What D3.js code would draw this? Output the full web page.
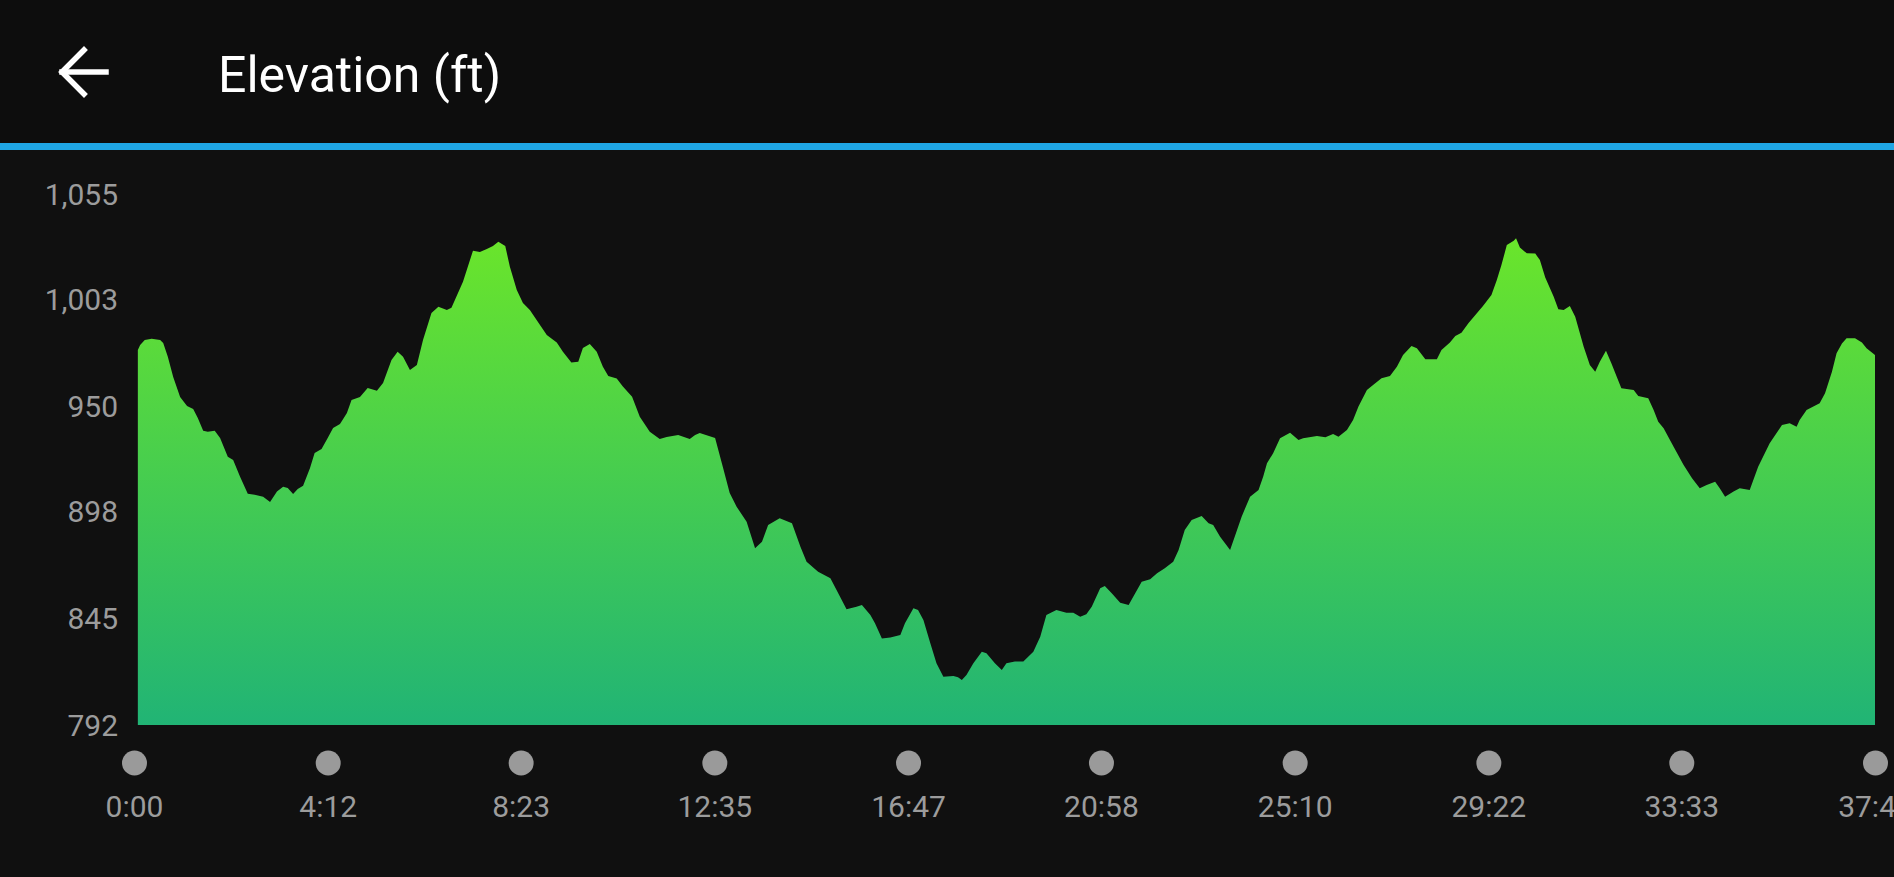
<!DOCTYPE html>
<html>
<head>
<meta charset="utf-8">
<script src="https://cdn.jsdelivr.net/npm/d3@7"></script>
<style>
  html, body { margin: 0; padding: 0; background: #101010; overflow: hidden; }
  svg { display: block; }
  text { font-family: Roboto, "Noto Sans", sans-serif; }
</style>
</head>
<body>
<svg id="chart" width="1894" height="877"></svg>
<script>
// ---- Data ----
const title = "Elevation (ft)";

// elapsed time in seconds
const times = [
  5, 8, 14, 23, 34, 38, 44, 51, 60, 69, 77, 83, 90, 96, 105, 112, 122, 129, 138, 148,
  157, 168, 177, 186, 194, 200, 207, 213, 220, 229, 235, 244, 252, 259, 268, 277, 283, 294, 304, 316,
  324, 335, 343, 350, 359, 368, 376, 387, 396, 407, 413, 428, 441, 450, 459, 467, 474, 483, 489, 498,
  506, 515, 537, 550, 558, 569, 578, 584, 593, 602, 610, 617, 628, 636, 648, 658, 671, 684, 693, 708,
  723, 730, 736, 756, 766, 775, 784, 797, 808, 817, 825, 840, 856, 867, 875, 890, 906, 914, 927, 940,
  947, 958, 964, 973, 984, 997, 1003, 1014, 1020, 1027, 1036, 1044, 1053, 1066, 1072, 1077, 1083, 1092, 1103, 1109,
  1120, 1129, 1135, 1146, 1157, 1170, 1179, 1187, 1200, 1213, 1222, 1231, 1239, 1246, 1257, 1263, 1272, 1283, 1294, 1300,
  1311, 1322, 1331, 1341, 1352, 1359, 1367, 1376, 1389, 1398, 1404, 1413, 1426, 1432, 1441, 1452, 1463, 1469, 1474, 1482,
  1491, 1504, 1515, 1521, 1539, 1550, 1560, 1567, 1578, 1586, 1593, 1604, 1612, 1623, 1634, 1643, 1651, 1662, 1669, 1680,
  1695, 1701, 1712, 1719, 1727, 1736, 1747, 1755, 1766, 1773, 1779, 1786, 1795, 1798, 1803, 1812, 1823, 1829, 1836, 1847,
  1853, 1860, 1868, 1875, 1886, 1894, 1901, 1907, 1915, 1922, 1929, 1935, 1951, 1957, 1970, 1977, 1983, 1990, 2003, 2016,
  2027, 2037, 2046, 2057, 2063, 2070, 2081, 2089, 2102, 2113, 2128, 2144, 2154, 2163, 2167, 2176, 2193, 2200, 2209, 2215,
  2222, 2228, 2239, 2248, 2254, 2265
];

// elevation in feet
const elevations = [
  977.7, 980.2, 982.7, 983.3, 982.7, 981.2, 974.4, 964.4, 954.5, 950.0, 948.5, 944.1, 937.8, 937.3, 937.8, 934.2, 924.9, 923.3, 915.0, 906.5,
  906.0, 905.0, 902.5, 907.6, 910.0, 909.4, 906.4, 908.9, 910.5, 919.3, 926.7, 928.7, 934.2, 939.1, 941.1, 946.5, 953.0, 954.5, 958.9, 957.6,
  961.4, 972.8, 976.9, 974.4, 967.8, 970.3, 982.7, 996.1, 999.1, 997.6, 998.6, 1011.6, 1026.9, 1026.3, 1027.8, 1029.2, 1031.4, 1029.2, 1019.0, 1007.5,
  1001.0, 997.6, 985.2, 981.4, 976.9, 971.5, 971.9, 978.7, 980.7, 976.9, 969.5, 964.9, 963.6, 959.6, 954.6, 944.7, 937.3, 933.7, 934.6, 935.6,
  933.7, 935.6, 936.6, 934.2, 919.9, 906.9, 900.1, 892.7, 879.5, 882.8, 891.1, 894.4, 891.9, 880.3, 872.9, 867.9, 864.7, 858.9, 849.3, 850.6,
  851.4, 846.5, 842.4, 834.9, 835.4, 836.6, 842.4, 849.8, 849.0, 844.0, 832.5, 822.6, 815.9, 816.3, 815.6, 814.3, 816.8, 822.6, 828.3, 827.5,
  822.6, 819.2, 822.6, 823.4, 823.4, 828.3, 835.7, 846.5, 849.0, 847.6, 847.6, 845.6, 846.9, 850.6, 859.7, 860.8, 857.2, 852.6, 851.4, 855.5,
  863.0, 864.2, 867.1, 869.6, 872.9, 878.7, 888.6, 893.5, 895.5, 891.9, 891.1, 885.3, 878.7, 885.3, 895.2, 905.1, 908.4, 915.0, 921.6, 926.6,
  934.0, 936.8, 933.2, 934.0, 935.1, 934.5, 936.1, 934.8, 938.1, 943.1, 949.7, 957.9, 960.4, 963.7, 964.9, 969.5, 975.3, 979.7, 978.6, 973.1,
  973.1, 977.7, 981.4, 984.7, 986.3, 991.0, 995.9, 999.5, 1005.0, 1012.4, 1019.8, 1029.7, 1031.9, 1033.1, 1028.5, 1025.6, 1025.5, 1022.3, 1013.6, 1004.1,
  997.9, 997.5, 999.5, 994.2, 979.4, 970.3, 967.0, 971.9, 977.4, 971.2, 964.5, 958.8, 957.9, 955.0, 953.8, 948.0, 942.2, 939.0, 929.8, 920.8,
  914.2, 909.2, 910.9, 912.5, 909.2, 905.1, 907.6, 909.2, 908.4, 919.9, 931.5, 940.6, 941.4, 939.7, 943.1, 948.0, 951.3, 956.3, 967.0, 976.1,
  981.0, 983.5, 983.5, 981.4, 978.6, 975.3
];

// axis ticks
const yTicks = [792, 845, 898, 950, 1003, 1055];
const xTickSeconds = [0, 252, 503, 755, 1007, 1258, 1510, 1762, 2013, 2265];
const xTickLabels = ["0:00", "4:12", "8:23", "12:35", "16:47", "20:58", "25:10", "29:22", "33:33", "37:45"];

const yDomain = [792, 1055];
const xDomain = [0, 2265];

// ---- Drawing ----
const W = 1894, H = 877;
const svg = d3.select("#chart");

// header
svg.append("rect").attr("x", 0).attr("y", 0).attr("width", W).attr("height", 143).attr("fill", "#0d0d0d");
svg.append("rect").attr("x", 0).attr("y", 143).attr("width", W).attr("height", 7).attr("fill", "#1fa6e4");

// back arrow
const arrow = svg.append("g").attr("fill", "none").attr("stroke", "#ffffff")
  .attr("stroke-width", 5.5).attr("stroke-linecap", "square").attr("stroke-linejoin", "miter");
arrow.append("path").attr("d", d3.line()([[62, 72], [106, 72]]));
arrow.append("path").attr("d", d3.line()([[84, 50], [62, 72], [84, 94]]));

svg.append("text")
  .attr("x", 218).attr("y", 92)
  .attr("fill", "#ffffff")
  .style("font-size", "50px")
  .text(title);

// scales
const x = d3.scaleLinear().domain(xDomain).range([134, 1875]);
const y = d3.scaleLinear().domain(yDomain).range([725, 194]);

// gradient
const defs = svg.append("defs");
const grad = defs.append("linearGradient")
  .attr("id", "elevGrad")
  .attr("gradientUnits", "userSpaceOnUse")
  .attr("x1", 0).attr("x2", 0)
  .attr("y1", y(1033)).attr("y2", y(792));
grad.append("stop").attr("offset", "0%").attr("stop-color", "#6ae52b");
grad.append("stop").attr("offset", "100%").attr("stop-color", "#21b475");

const data = times.map((t, i) => ({ t, v: elevations[i] }));

const area = d3.area()
  .x(d => x(d.t))
  .y0(y(yDomain[0]))
  .y1(d => y(d.v))
  .curve(d3.curveLinear);

svg.append("path")
  .datum(data)
  .attr("d", area)
  .attr("fill", "url(#elevGrad)");

// y axis
const yAxis = svg.append("g")
  .attr("transform", "translate(118,0)")
  .call(d3.axisLeft(y).tickValues(yTicks).tickFormat(d3.format(",")).tickSize(0).tickPadding(0));
yAxis.select(".domain").remove();
yAxis.selectAll("text")
  .attr("fill", "#9c9c9c")
  .attr("dy", "0.35em")
  .style("font-size", "30px")
  .style("font-family", "Roboto, sans-serif");

// x axis
const xAxis = svg.append("g")
  .attr("transform", "translate(0,763)")
  .call(d3.axisBottom(x).tickValues(xTickSeconds)
    .tickFormat((d, i) => xTickLabels[i]).tickSize(0).tickPadding(0));
xAxis.select(".domain").remove();
xAxis.selectAll(".tick").append("circle")
  .attr("cx", 0).attr("cy", 0).attr("r", 12.5)
  .attr("fill", "#9a9a9a");
xAxis.selectAll("text")
  .attr("y", 43)
  .attr("dy", "0.35em")
  .attr("fill", "#9c9c9c")
  .style("font-size", "30px")
  .style("font-family", "Roboto, sans-serif");
</script>
</body>
</html>
